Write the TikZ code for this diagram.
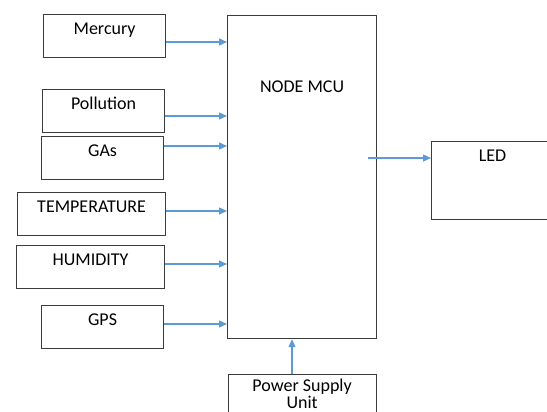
\documentclass[tikz,border=0pt]{standalone}
\usepackage{fontspec}
\setmainfont{Carlito}
\usetikzlibrary{positioning, arrows.meta}
\definecolor{flowblue}{RGB}{91,155,213}
\definecolor{boxgray}{RGB}{60,60,60}

\begin{document}
\begin{tikzpicture}[x=1pt, y=-1pt,
                >={Triangle[length=8pt,width=7pt]},
                font=\fontsize{18}{17}\selectfont,
                block/.style={rectangle, draw=boxgray, line width=1.2pt, inner sep=0pt, anchor=north west},
                sensor/.style={block, minimum width=122pt, text height=20pt, text depth=23pt},
                flow/.style={->, color=flowblue, line width=1.3pt}
                ]

                \clip (0,0) rectangle (547,412);
                \fill[white] (0,0) rectangle (547,412);

                % Nodes
                \node[sensor] (mercury) at (43,14) {Mercury};
                \node[sensor] (pollution) at (42,89) {Pollution};
                \node[sensor] (gas) at (41,136) {GAs};
                \node[sensor, minimum width=148pt] (temp) at (17,192) {TEMPERATURE};
                \node[sensor, minimum width=148pt] (humid) at (16,245) {HUMIDITY};
                \node[sensor] (gps) at (41,305) {GPS};
                \node[block, minimum width=149pt, text height=77pt, text depth=246pt] (mcu) at (227,15) {NODE MCU};
                \node[block, minimum width=122pt, text height=20pt, text depth=58pt] (led) at (431,141) {LED};
                \node[block, minimum width=148pt, minimum height=39pt, align=center] (power) [below=35pt of mcu] {Power Supply\\Unit};
                \coordinate (mcu_out) at (368,158);

                % Paths
                \path[flow]
                (mercury.east |- 0,42) edge (mcu.west |- 0,42)
                (pollution.east |- 0,116) edge (mcu.west |- 0,116)
                (gas.east |- 0,146) edge (mcu.west |- 0,146)
                (temp.east |- 0,211) edge (mcu.west |- 0,211)
                (humid.east |- 0,264) edge (mcu.west |- 0,264)
                (gps.east |- 0,324) edge (mcu.west |- 0,324)
                (mcu_out) edge (led.west |- mcu_out)
                (power.north -| 292,0) edge (mcu.south -| 292,0);
\end{tikzpicture}
\end{document}
